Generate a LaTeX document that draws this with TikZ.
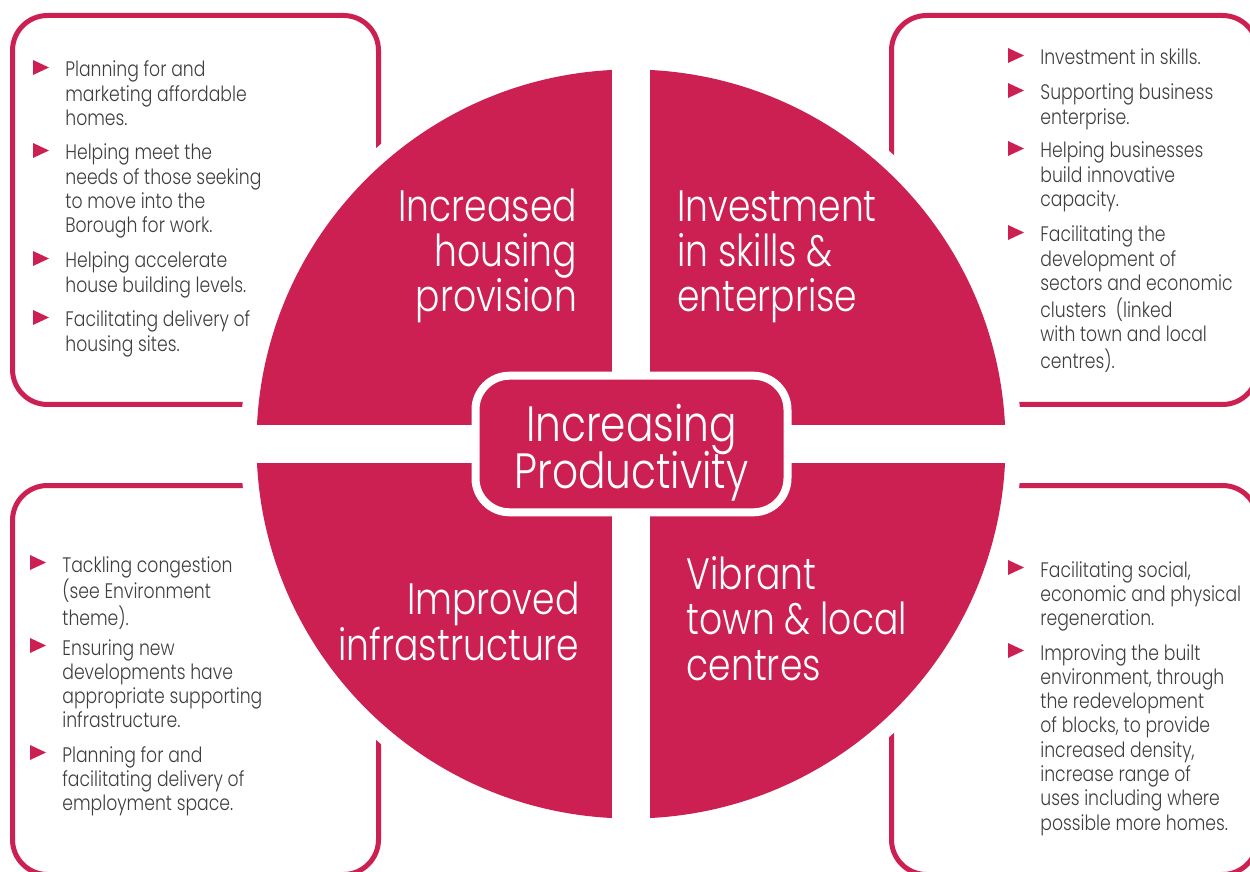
\documentclass[tikz,border=0pt]{standalone}
\usepackage{fontspec}
\setmainfont{Poppins}[UprightFont=* Light, FakeStretch=0.82]
\usetikzlibrary{calc}

\definecolor{crimson}{RGB}{204,32,82}
\definecolor{inkgrey}{RGB}{62,62,62}

% text lines hang from the baseline of the first line
\newcommand{\bulletpoint}[4]{%
  \node[pointtext] (#1) at (#2,#3) {\begin{tabular}[t]{@{}l@{}}#4\end{tabular}};
  \fill[crimson] ($(#1.base west)+(-32,-17)$) -- ++(0,15) -- ++(16,-7.5) -- cycle;
}

\begin{document}
\begin{tikzpicture}[x=0.5pt, y=-0.5pt,
    panel/.style={draw=crimson, line width=2.5pt, rounded corners=17.5pt},
    pointtext/.style={anchor=base west, inner sep=0pt, text=inkgrey,
      font={\fontsize{10.5}{12.15}\selectfont}},
    quarter/.style={inner sep=0pt, text=white,
      font={\fontsize{22}{22.6}\selectfont\lineskiplimit-20pt\relax}},
    hubbox/.style={draw=white, line width=4pt, fill=crimson, rounded corners=17pt,
      minimum width=156pt, minimum height=68.3pt, inner sep=0pt},
    hubtext/.style={inner sep=0pt, text=white, align=center,
      font={\fontsize{24.8}{23.5}\selectfont\lineskiplimit-20pt\relax}}]
    \useasboundingbox (0,0) rectangle (1250,872);
    \clip (0,0) rectangle (1250,872);

    \draw[panel] (12.5,15.5) rectangle (378.5,404.5);
    \draw[panel] (891.5,15.5) rectangle (1257.5,404.5);
    \draw[panel] (12.5,485.5) rectangle (378.5,874.5);
    \draw[panel] (891.5,485.5) rectangle (1257.5,874.5);

    % disc in four quarters
    \coordinate (mid) at (631,444);
    \fill[white] (mid) circle[radius=390.5];
    \fill[crimson] (mid) circle[radius=374.5];
    \fill[white] (612,60) rectangle (650,830);
    \fill[white] (250,425) rectangle (1012,463);

    \node[hubbox] (hub) at (631.5,444) {};
    \node[hubtext, anchor=base] (hubtitle) at (631.5,488) {Increasing\\Productivity};

    % labels sit on the baseline of their last line
    \node[quarter, align=right, anchor=base east] (housing) at (577.3,311.5) {Increased\\housing\\provision};
    \node[quarter, align=left, anchor=base west] (skills) at (676.8,311.5) {Investment\\in skills \&\\enterprise};
    \node[quarter, align=right, anchor=base east] (infra) at (579.8,660) {Improved\\infrastructure};
    \node[quarter, align=left, anchor=base west] (centres) at (686.3,680) {Vibrant\\town \& local\\centres};

    % housing
    \bulletpoint{hA}{65}{77}{Planning for and\\marketing affordable\\homes.}
    \bulletpoint{hB}{65}{160}{Helping meet the\\needs of those seeking\\to move into the\\Borough for work.}
    \bulletpoint{hC}{65}{268}{Helping accelerate\\house building levels.}
    \bulletpoint{hD}{65}{327}{Facilitating delivery of\\housing sites.}

    % skills
    \bulletpoint{sA}{1040}{65}{Investment in skills.}
    \bulletpoint{sB}{1040}{100}{Supporting business\\enterprise.}
    \bulletpoint{sC}{1040}{158}{Helping businesses\\build innovative\\capacity.}
    \bulletpoint{sD}{1040}{242}{Facilitating the\\development of\\sectors and economic\\clusters~ (linked\\with town and local\\centres).}

    % infrastructure
    \bulletpoint{iA}{62}{572}{Tackling congestion\\(see Environment\\theme).}
    \bulletpoint{iB}{62}{655}{Ensuring new\\developments have\\appropriate supporting\\infrastructure.}
    \bulletpoint{iC}{62}{762}{Planning for and\\facilitating delivery of\\employment space.}

    % centres
    \bulletpoint{cA}{1040}{577}{Facilitating social,\\economic and physical\\regeneration.}
    \bulletpoint{cB}{1040}{660}{Improving the built\\environment, through\\the redevelopment\\of blocks, to provide\\increased density,\\increase range of\\uses including where\\possible more homes.}
\end{tikzpicture}
\end{document}
